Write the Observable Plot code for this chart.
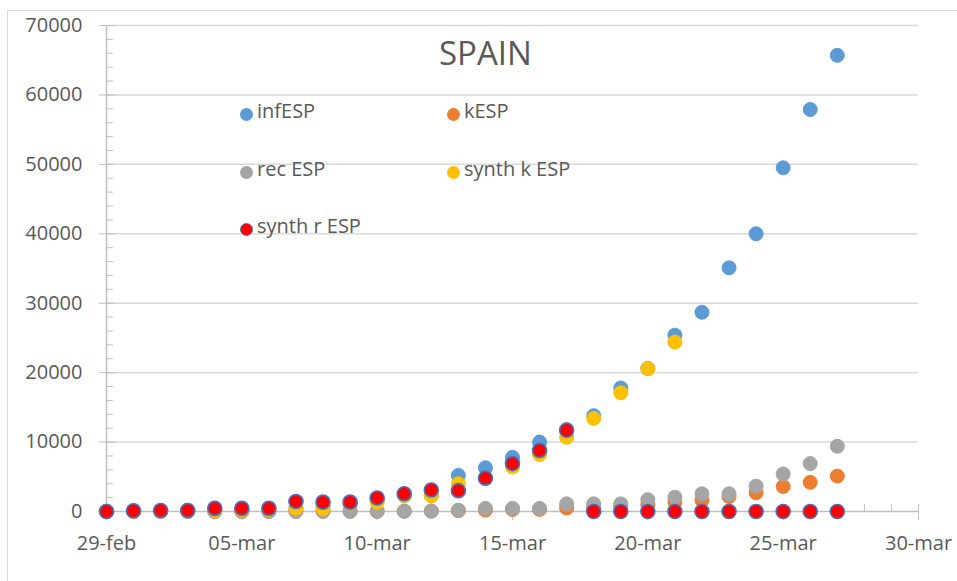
<!DOCTYPE html>
<html>
<head>
<meta charset="utf-8">
<script src="https://cdn.jsdelivr.net/npm/d3@7"></script>
<script src="https://cdn.jsdelivr.net/npm/@observablehq/plot@0.6"></script>
<style>
  html, body { margin: 0; padding: 0; background: #fff; }
  #wrap { position: relative; width: 957px; height: 581px; overflow: hidden; font-family: "Open Sans", sans-serif; color: #595959; }
  #frame { position: absolute; left: 7px; top: 10px; width: 1200px; height: 1200px; border: 1.5px solid #d9d9d9; box-sizing: border-box; }
  #chart { position: absolute; left: 0; top: 0; }
  .title { position: absolute; left: 439px; top: 35.7px; font-size: 33px; line-height: 33px; white-space: nowrap; }
  .lg-dot { position: absolute; width: 13px; height: 13px; border-radius: 50%; box-sizing: border-box; }
  .lg-txt { position: absolute; font-size: 20px; line-height: 20px; white-space: nowrap; }
</style>
</head>
<body>
<div id="wrap">
  <div id="frame"></div>
  <div id="chart"></div>
</div>
<script>
// ---- data ----
const startDate = "2020-02-29";
const endDate = "2020-03-30";
const infESP  = [45, 84, 120, 165, 222, 259, 400, 500, 673, 1073, 1695, 2277, 2277, 5200, 6300, 7800, 10000, 11800, 13800, 17800, 20600, 25400, 28700, 35100, 40000, 49500, 57900, 65700];
const kESP    = [0, 0, 0, 0, 2, 3, 5, 10, 17, 20, 30, 50, 80, 130, 200, 290, 300, 500, 600, 800, 1000, 1350, 1600, 2150, 2700, 3600, 4200, 5100];
const recESP  = [0, 0, 0, 0, 0, 0, 0, 30, 30, 30, 30, 30, 30, 190, 450, 450, 450, 1100, 1100, 1100, 1700, 2050, 2550, 2550, 3650, 5400, 6900, 9400];
const synthK  = [20, 50, 80, 110, 180, 200, 260, 480, 400, 1200, 1350, 2300, 2300, 4000, 4800, 6400, 8200, 10700, 13400, 17100, 20550, 24400, 0, 0, 0, 0, 0, 0];
const synthR  = [0, 100, 150, 150, 450, 450, 450, 1450, 1350, 1350, 1950, 2550, 3100, 3000, 4800, 6900, 8800, 11700, 0, 0, 0, 0, 0, 0, 0, 0, 0, 0];

const seriesNames  = ["infESP", "kESP", "rec ESP", "synth k ESP", "synth r ESP"];
const seriesValues = [infESP, kESP, recESP, synthK, synthR];
const seriesFill   = ["#5B9BD5", "#ED7D31", "#A5A5A5", "#FFC000", "#FF0000"];
const seriesStroke = ["#5B9BD5", "#ED7D31", "#A5A5A5", "#FFC000", "#4472C4"];

const xTickLabels = ["29-feb", "05-mar", "10-mar", "15-mar", "20-mar", "25-mar", "30-mar"];
const yTickValues = [0, 10000, 20000, 30000, 40000, 50000, 60000, 70000];
const titleText = "SPAIN";

// ---- build ----
const start = new Date(startDate + "T00:00:00Z");
const end = new Date(endDate + "T00:00:00Z");
const dayOf = (i) => d3.utcDay.offset(start, i);
const allDays = d3.utcDay.range(start, d3.utcDay.offset(end, 1));
const majorDays = xTickLabels.map((_, i) => d3.utcDay.offset(start, i * 5));
const minorY = d3.range(0, 70001, 2000).filter(v => v % 10000 !== 0);

const dotMarks = seriesValues.map((vals, s) =>
  Plot.dot(vals.map((v, i) => ({date: dayOf(i), value: v, series: seriesNames[s]})), {
    x: "date", y: "value", r: 7,
    fill: seriesFill[s], stroke: seriesStroke[s], strokeWidth: s === 4 ? 1.6 : 1
  })
);

const chart = Plot.plot({
  width: 957,
  height: 581,
  marginLeft: 106,
  marginRight: 39,
  marginTop: 25,
  marginBottom: 70,
  style: {fontFamily: "'Open Sans', sans-serif", background: "transparent", overflow: "visible"},
  x: {type: "utc", domain: [start, end], axis: null},
  y: {domain: [0, 70000], axis: null},
  marks: [
    Plot.gridY(yTickValues.slice(1), {stroke: "#d9d9d9", strokeOpacity: 1, strokeWidth: 1.5}),
    Plot.ruleY([0], {stroke: "#bfbfbf", strokeWidth: 1.5}),
    Plot.ruleX([start], {stroke: "#bfbfbf", strokeWidth: 1.5}),
    // y minor ticks (inside)
    Plot.axisY(minorY, {anchor: "left", tickSize: 7, dx: 7, stroke: "#bfbfbf", fill: "none", label: null}),
    Plot.axisY(yTickValues, {anchor: "left", tickSize: 9, dx: 9, stroke: "#bfbfbf", fill: "none", label: null}),
    // y major ticks with labels
    Plot.axisY(yTickValues, {anchor: "left", tickSize: 7, tickPadding: 17, stroke: "#bfbfbf", fill: "#595959",
      fontSize: 20, tickFormat: d3.format("d"), label: null}),
    // x minor daily ticks (upward)
    Plot.axisX(allDays, {anchor: "bottom", tickSize: 7, dy: -7, stroke: "#bfbfbf", fill: "none", label: null}),
    // x major ticks with labels
    Plot.axisX(majorDays, {anchor: "bottom", tickSize: 16, dy: -7, tickPadding: 15, stroke: "#bfbfbf", fill: "#595959",
      fontSize: 20, tickFormat: (d, i) => xTickLabels[i], label: null}),
    ...dotMarks
  ]
});
document.getElementById("chart").appendChild(chart);

// ---- title and legend (overlay inside the plot area, as in the reference) ----
const wrap = document.getElementById("wrap");
const t = document.createElement("div");
t.className = "title";
t.textContent = titleText;
wrap.appendChild(t);

const legendPos = [[246, 114], [453, 114], [246, 172], [453, 172], [246, 229]];
seriesNames.forEach((name, s) => {
  const [cx, cy] = legendPos[s];
  const dot = document.createElement("div");
  dot.className = "lg-dot";
  dot.style.left = (cx - 6.5) + "px";
  dot.style.top = (cy - 6.5) + "px";
  dot.style.background = seriesFill[s];
  dot.style.border = s === 4 ? "1.5px solid " + seriesStroke[s] : "none";
  wrap.appendChild(dot);
  const txt = document.createElement("div");
  txt.className = "lg-txt";
  txt.textContent = name;
  txt.style.left = (cx + 11) + "px";
  txt.style.top = (cy + 5 - 17.8) + "px";
  wrap.appendChild(txt);
});
</script>
</body>
</html>
